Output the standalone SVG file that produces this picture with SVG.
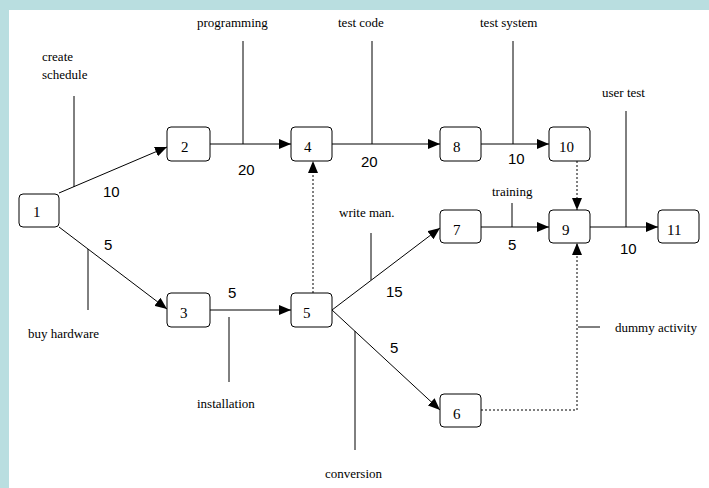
<svg xmlns="http://www.w3.org/2000/svg" width="709" height="488" viewBox="0 0 709 488">
  <style>
    .node rect { fill: #ffffff; stroke: #000000; stroke-width: 1; }
    .node text { font-family: "Liberation Serif", serif; font-size: 15px; fill: #000; }
    .edge { stroke: #000; stroke-width: 1; fill: none; }
    .dot { stroke: #000; stroke-width: 1; fill: none; stroke-dasharray: 2 2; }
    .lbl { font-family: "Liberation Serif", serif; font-size: 13px; fill: #000; }
    .num { font-family: "Liberation Sans", sans-serif; font-size: 15px; fill: #000; }
  </style>
  <defs>
    <marker id="arr" viewBox="0 0 12 10" refX="12" refY="5" markerWidth="12" markerHeight="10" markerUnits="userSpaceOnUse" orient="auto">
      <path d="M0,0 L12,5 L0,10 Z" fill="#000"/>
    </marker>
  </defs>

  <!-- frame -->
  <rect x="0" y="0" width="709" height="488" fill="#b9dee0"/>
  <rect x="9" y="10" width="700" height="478" fill="#ffffff"/>

  <!-- connectors and activity callouts -->
  <g id="connectors">
    <line class="edge" x1="59" y1="193" x2="167" y2="147" marker-end="url(#arr)"/>
    <line class="edge" x1="59" y1="227" x2="167" y2="309" marker-end="url(#arr)"/>
    <line class="edge" x1="210" y1="144" x2="291" y2="144" marker-end="url(#arr)"/>
    <line class="edge" x1="332" y1="144" x2="440" y2="144" marker-end="url(#arr)"/>
    <line class="edge" x1="481" y1="144" x2="549" y2="144" marker-end="url(#arr)"/>
    <line class="edge" x1="210" y1="310" x2="291" y2="310" marker-end="url(#arr)"/>
    <line class="edge" x1="332" y1="310" x2="440" y2="228" marker-end="url(#arr)"/>
    <line class="edge" x1="332" y1="310" x2="440" y2="410" marker-end="url(#arr)"/>
    <line class="edge" x1="481" y1="227" x2="549" y2="227" marker-end="url(#arr)"/>
    <line class="edge" x1="590" y1="227" x2="658" y2="227" marker-end="url(#arr)"/>
    <!-- dummy activities -->
    <line class="dot" x1="313" y1="293" x2="313" y2="161" marker-end="url(#arr)"/>
    <line class="dot" x1="577" y1="161" x2="577" y2="210" marker-end="url(#arr)"/>
    <polyline class="dot" points="481,410 577,410 577,243" marker-end="url(#arr)"/>

    <!-- callout ticks -->
    <line class="edge" x1="74" y1="96" x2="74" y2="187"/>
    <line class="edge" x1="243" y1="41" x2="243" y2="144"/>
    <line class="edge" x1="372" y1="41" x2="372" y2="144"/>
    <line class="edge" x1="513" y1="41" x2="513" y2="144"/>
    <line class="edge" x1="626" y1="111" x2="626" y2="227"/>
    <line class="edge" x1="512" y1="203" x2="512" y2="227"/>
    <line class="edge" x1="371" y1="233" x2="371" y2="280"/>
    <line class="edge" x1="88" y1="249" x2="88" y2="310"/>
    <line class="edge" x1="229" y1="317" x2="229" y2="382"/>
    <line class="edge" x1="355" y1="331" x2="355" y2="450"/>
    <line class="edge" x1="578" y1="327" x2="600" y2="327"/>

    <!-- durations -->
    <text class="num" x="103" y="197">10</text>
    <text class="num" x="238" y="175">20</text>
    <text class="num" x="361" y="167">20</text>
    <text class="num" x="508" y="164">10</text>
    <text class="num" x="508" y="250">5</text>
    <text class="num" x="620" y="254">10</text>
    <text class="num" x="104" y="250">5</text>
    <text class="num" x="228" y="298">5</text>
    <text class="num" x="386" y="297">15</text>
    <text class="num" x="390" y="353">5</text>

    <!-- activity names -->
    <text class="lbl" x="42" y="61">create</text>
    <text class="lbl" x="42" y="79">schedule</text>
    <text class="lbl" x="197" y="27">programming</text>
    <text class="lbl" x="338" y="27">test code</text>
    <text class="lbl" x="480" y="27">test system</text>
    <text class="lbl" x="602" y="97">user test</text>
    <text class="lbl" x="492" y="196">training</text>
    <text class="lbl" x="339" y="217">write man.</text>
    <text class="lbl" x="28" y="338">buy hardware</text>
    <text class="lbl" x="197" y="408">installation</text>
    <text class="lbl" x="325" y="478">conversion</text>
    <text class="lbl" x="615" y="332">dummy activity</text>
  </g>

  <!-- event nodes -->
  <g id="n1" class="node"><rect x="19" y="194" width="40" height="33" rx="4"/><text x="33" y="217">1</text></g>
  <g id="n2" class="node"><rect x="167" y="127" width="43" height="34" rx="4"/><text x="181" y="152">2</text></g>
  <g id="n4" class="node"><rect x="291" y="127" width="41" height="34" rx="4"/><text x="304" y="152">4</text></g>
  <g id="n8" class="node"><rect x="440" y="127" width="41" height="34" rx="4"/><text x="453" y="152">8</text></g>
  <g id="n10" class="node"><rect x="549" y="127" width="41" height="34" rx="4"/><text x="559" y="152">10</text></g>
  <g id="n7" class="node"><rect x="440" y="210" width="41" height="33" rx="4"/><text x="453" y="235">7</text></g>
  <g id="n9" class="node"><rect x="549" y="210" width="41" height="33" rx="4"/><text x="562" y="235">9</text></g>
  <g id="n11" class="node"><rect x="658" y="210" width="41" height="33" rx="4"/><text x="667" y="235">11</text></g>
  <g id="n3" class="node"><rect x="167" y="293" width="43" height="34" rx="4"/><text x="180" y="318">3</text></g>
  <g id="n5" class="node"><rect x="291" y="293" width="41" height="34" rx="4"/><text x="303" y="318">5</text></g>
  <g id="n6" class="node"><rect x="440" y="394" width="41" height="33" rx="4"/><text x="453" y="419">6</text></g>
</svg>
